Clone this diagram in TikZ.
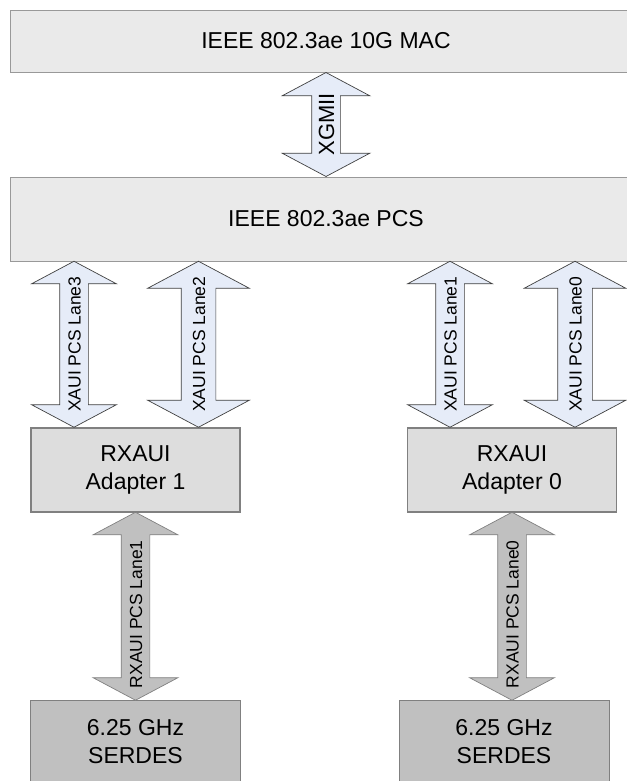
\documentclass[tikz,border=0pt]{standalone}
\usepackage{fontspec}
\setmainfont{Liberation Sans}
\usetikzlibrary{shapes.arrows,calc}
\definecolor{layerfill}{RGB}{234,234,234}
\definecolor{adapterfill}{RGB}{221,221,221}
\definecolor{serdesfill}{RGB}{192,192,192}
\definecolor{xauifill}{RGB}{230,236,248}
\definecolor{boxline}{RGB}{128,128,128}
\newcommand{\boxfont}{\fontsize{23}{28}\selectfont}
\newcommand{\lanefont}{\fontsize{17.5}{20}\selectfont}
\newcommand{\lanelabel}[1]{\makebox[0pt]{#1}}
\newcommand{\rxlabel}[1]{\makebox[0pt]{#1\hspace{16pt}}}
\tikzset{
  layerbox/.style={draw=boxline!80, line width=0.8pt, fill=layerfill, font=\boxfont},
  adapterbox/.style={draw=boxline, line width=1.8pt, fill=adapterfill, align=center,
    minimum width=209pt, minimum height=84pt, font=\boxfont},
  serdesbox/.style={draw=boxline, line width=0.8pt, fill=serdesfill, align=center,
    minimum width=210pt, minimum height=84pt, font=\boxfont},
  fatarrow/.style={double arrow, rotate=90, double arrow tip angle=124, inner xsep=0pt,
    text height=13pt, text depth=0pt, font=\lanefont},
  xauiarrow/.style={fatarrow, draw=black!75, line width=0.7pt, fill=xauifill},
  rxauiarrow/.style={fatarrow, draw=boxline, line width=0.7pt, fill=serdesfill}
}
\begin{document}
\begin{tikzpicture}[x=1pt,y=-1pt]
\useasboundingbox (0,0) rectangle (626,781);
\node[layerbox, minimum width=632pt, minimum height=62pt] (mac) at (326,41) {IEEE 802.3ae 10G MAC};
\node[layerbox, minimum width=632pt, minimum height=84pt] (pcs) at (326,219) {IEEE 802.3ae PCS};
\node[adapterbox] (adp1) at (135.5,470) {RXAUI\\Adapter 1};
\node[adapterbox] (adp0) at (512,470) {RXAUI\\Adapter 0};
\node[serdesbox] (ser1) at (135.5,742) {6.25 GHz\\SERDES};
\node[serdesbox] (ser0) at (504,742) {6.25 GHz\\SERDES};
% XGMII between MAC and PCS
\node[xauiarrow, minimum height=104pt, double arrow head extend=29.5pt, inner ysep=6pt,
  text height=16pt, font=\fontsize{22}{24}\selectfont] (xgmii)
  at ($(mac.south)!.5!(pcs.north)$) {\lanelabel{XGMII}};
% XAUI lanes
\node[xauiarrow, minimum height=166pt, double arrow head extend=28pt, inner ysep=7.5pt] (lane3)
  at ($(pcs.south -| 74,0)!.5!(adp1.north -| 74,0)$) {\lanelabel{XAUI PCS Lane3}};
\node[xauiarrow, minimum height=166pt, double arrow head extend=33.5pt, inner ysep=10.5pt] (lane2)
  at ($(pcs.south -| 198.5,0)!.5!(adp1.north -| 198.5,0)$) {\lanelabel{XAUI PCS Lane2}};
\node[xauiarrow, minimum height=166pt, double arrow head extend=28pt, inner ysep=7.5pt] (lane1)
  at ($(pcs.south -| 450,0)!.5!(adp0.north -| 450,0)$) {\lanelabel{XAUI PCS Lane1}};
\node[xauiarrow, minimum height=166pt, double arrow head extend=33.5pt, inner ysep=10.5pt] (lane0)
  at ($(pcs.south -| 575,0)!.5!(adp0.north -| 575,0)$) {\lanelabel{XAUI PCS Lane0}};
% RXAUI lanes
\node[rxauiarrow, minimum height=188pt, double arrow head extend=28pt, inner ysep=7.5pt] (rxlane1)
  at ($(adp1.south)!.5!(ser1.north)$) {\rxlabel{RXAUI PCS Lane1}};
\node[rxauiarrow, minimum height=188pt, double arrow head extend=28pt, inner ysep=7.5pt] (rxlane0)
  at ($(adp0.south)!.5!(adp0.south |- ser0.north)$) {\rxlabel{RXAUI PCS Lane0}};
\end{tikzpicture}
\end{document}
